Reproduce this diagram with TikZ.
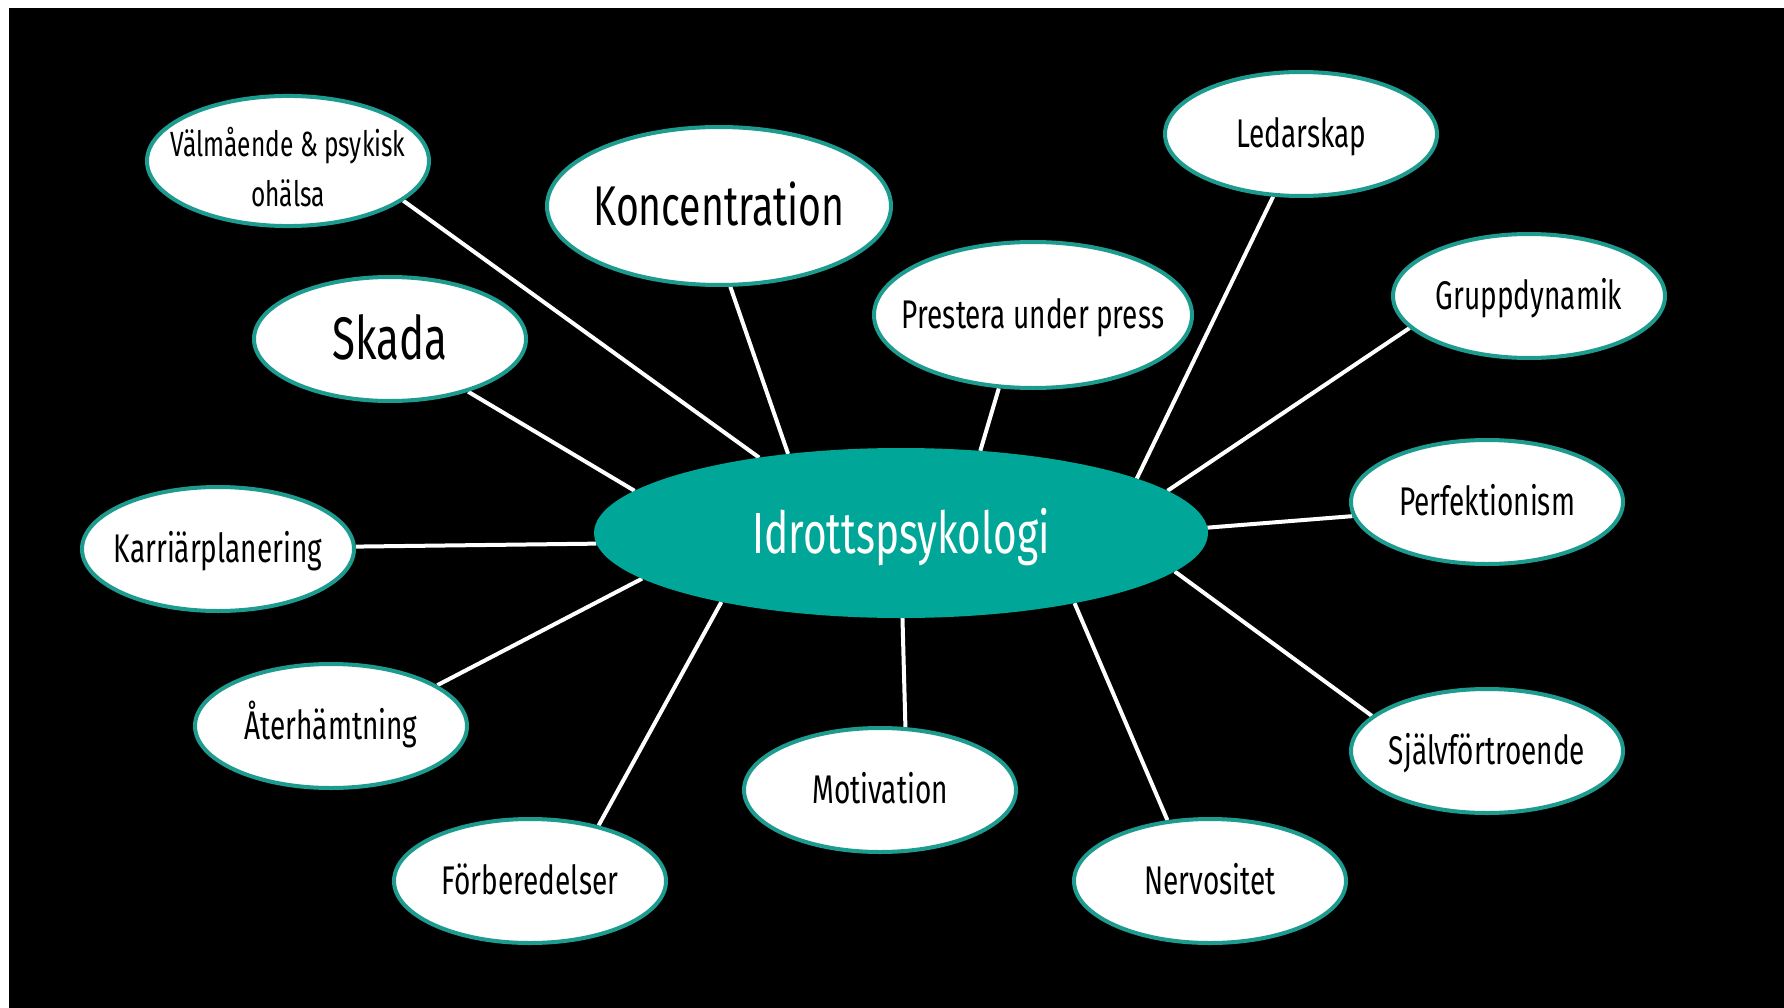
\documentclass[tikz,border=0pt]{standalone}
\usepackage{fontspec}
\setmainfont{Fira Sans}[FakeStretch=0.7]
\usetikzlibrary{shapes.geometric}
\pgfdeclarelayer{background}
\pgfsetlayers{background,main}
\definecolor{hubteal}{RGB}{0,166,152}
\definecolor{glowteal}{RGB}{30,155,143}
\newcommand{\mylbl}[1]{\makebox[0pt][c]{#1}}
\begin{document}
\begin{tikzpicture}[x=1pt,y=-1pt,
  child/.style={ellipse, fill=white, draw=glowteal, line width=4pt,
    minimum width=272pt, minimum height=124pt, inner sep=0pt,
    font=\fontsize{40}{48}\selectfont, text height=27.6pt, text depth=0pt},
  bigchild/.style={child, font=\fontsize{56}{64}\selectfont, text height=38.6pt},
  hubnode/.style={ellipse, fill=hubteal, draw=none, minimum width=614pt,
    minimum height=170pt, inner sep=0pt, outer sep=0pt, text=white,
    font=\fontsize{58}{68}\selectfont, text height=40pt, text depth=0pt},
  link/.style={draw=white, line width=4pt}]
\useasboundingbox (0,0) rectangle (1784,1008);

\node[hubnode] (hub) at (901,533) {\mylbl{Idrottspsykologi}};

\node[child, minimum width=282pt, minimum height=128pt,
  font=\fontsize{35}{50}\selectfont, text height=92pt] (val) at (288,161)
  {\mylbl{\begin{tabular}[b]{@{}c@{}}Välmående \& psykisk\\ohälsa\end{tabular}}};
\node[bigchild, minimum width=344pt, minimum height=158pt] (kon) at (719,206) {\mylbl{Koncentration}};
\node[child, font=\fontsize{60}{70}\selectfont, text height=41.3pt] (ska) at (390,339) {\mylbl{Skada}};
\node[child, minimum width=318pt, minimum height=146pt] (pre) at (1033,315) {\mylbl{Prestera under press}};
\node[child] (led) at (1301,134) {\mylbl{Ledarskap}};
\node[child] (gru) at (1529,296) {\mylbl{Gruppdynamik}};
\node[child] (per) at (1487,502) {\mylbl{Perfektionism}};
\node[child] (sja) at (1487,751) {\mylbl{Självförtroende}};
\node[child] (ner) at (1210,881) {\mylbl{Nervositet}};
\node[child] (mot) at (880,790) {\mylbl{Motivation}};
\node[child] (for) at (530,881) {\mylbl{Förberedelser}};
\node[child] (ate) at (331,726) {\mylbl{Återhämtning}};
\node[child] (kar) at (218,549) {\mylbl{Karriärplanering}};

\begin{pgfonlayer}{background}
  \fill[white] (0,0) rectangle (1784,1008);
  \fill[black] (9,8) rectangle (1784,1008);
  \draw[link] (val.-19.3) -- (hub.152.8);
  \draw[link] (kon.-82.5) -- (hub.145.4);
  \draw[link] (ska.-34) -- (hub.171.6);
  \draw[link] (pre.-115) -- (hub.46.8);
  \draw[link] (led.-114) -- (hub.13.6);
  \draw[link] (gru.195) -- (hub.9.2);
  \draw[link] (per.186.3) -- (hub.1);
  \draw[link] (sja.163) -- (hub.-8.6);
  \draw[link] (ner.125.8) -- (hub.-22.6);
  \draw[link] (mot.68.8) -- (hub.-89.3);
  \draw[link] (for.39.5) -- (hub.201.3);
  \draw[link] (ate.21.9) -- (hub.190.4);
  \draw[link] (kar.1.6) -- (hub.182.3);
\end{pgfonlayer}
\end{tikzpicture}
\end{document}
